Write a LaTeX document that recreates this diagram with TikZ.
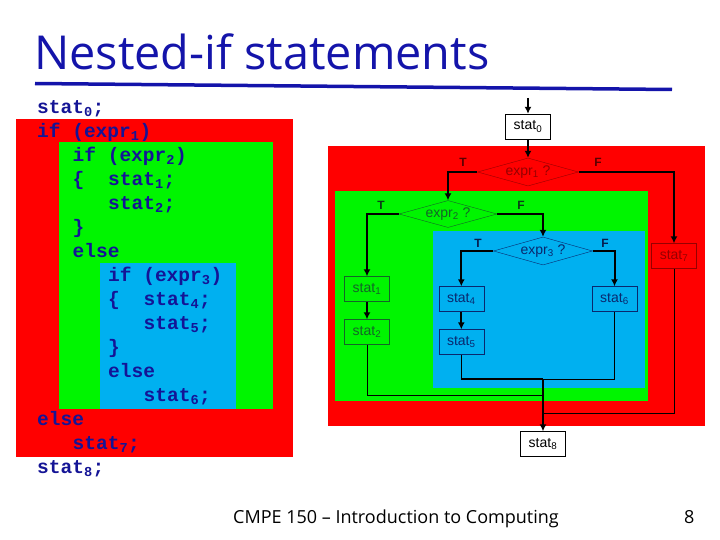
\documentclass[tikz,border=0pt]{standalone}
\usepackage{fontspec}
\setmainfont{Liberation Sans}
\newfontfamily\codefont{Liberation Mono}
\newfontfamily\titlefont{Open Sans}
\usetikzlibrary{shapes.geometric,arrows.meta}
\definecolor{codeblue}{RGB}{20,20,150}
\definecolor{titleblue}{RGB}{20,20,170}
\definecolor{zred}{RGB}{255,0,0}
\definecolor{zgreen}{RGB}{0,245,0}
\definecolor{zblue}{RGB}{0,176,240}
\definecolor{dred}{RGB}{150,0,0}
\definecolor{dgreen}{RGB}{20,100,40}
\definecolor{dblue}{RGB}{10,40,110}
\tikzset{
  code/.style={anchor=base west, inner sep=0pt, text=codeblue,
    font=\codefont\bfseries\fontsize{19.5}{24}\selectfont},
  fbox/.style={draw, minimum width=45pt, minimum height=25pt, inner sep=0pt,
    font=\fontsize{14}{16}\selectfont},
  dia/.style={diamond, draw, aspect=3.6, inner sep=0pt,
    font=\fontsize{14}{16}\selectfont},
  tf/.style={inner sep=0pt, font=\bfseries\fontsize{12}{14}\selectfont},
  thickl/.style={line width=2pt},
  thinl/.style={line width=0.8pt},
  arr/.style={line width=2pt, -{Latex[length=7pt,width=7pt]}},
}
\begin{document}
\begin{tikzpicture}[x=1pt,y=-1pt]
\useasboundingbox (0,0) rectangle (720,540);
% title
\node[anchor=base west, inner sep=0pt, text=titleblue,
  font=\titlefont\fontsize{46.8}{52}\selectfont] (title) at (34,70) {Nested-if statements};
\coordinate (ul1) at (35,83.5);
\coordinate (ul2) at (672,89.5);
\draw[titleblue, line width=3.5pt] (ul1) -- (ul2);
% left colored areas
\fill[zred] (16,119) rectangle (293,457);
\fill[zgreen] (59,142) rectangle (273,409);
\fill[zblue] (100,263) rectangle (236,409);
% code lines
\node[code] (l0) at (37,113.5) {stat\textsubscript{0};};
\node[code] (l1) at (37,137.5) {if (expr\textsubscript{1})};
\node[code] (l2) at (72.5,161.5) {if (expr\textsubscript{2})};
\node[code] (l3a) at (72.5,185.5) {\{};
\node[code] (l3b) at (108,185.5) {stat\textsubscript{1};};
\node[code] (l4) at (108,209.5) {stat\textsubscript{2};};
\node[code] (l5) at (72.5,233.5) {\}};
\node[code] (l6) at (72.5,257.5) {else};
\node[code] (l7) at (108,281.5) {if (expr\textsubscript{3})};
\node[code] (l8a) at (108,305.5) {\{};
\node[code] (l8b) at (143.5,305.5) {stat\textsubscript{4};};
\node[code] (l9) at (143.5,329.5) {stat\textsubscript{5};};
\node[code] (l10) at (108,353.5) {\}};
\node[code] (l11) at (108,377.5) {else};
\node[code] (l12) at (143.5,401.5) {stat\textsubscript{6};};
\node[code] (l13) at (37,425.5) {else};
\node[code] (l14) at (72.5,449.5) {stat\textsubscript{7};};
\node[code] (l15) at (37,473.5) {stat\textsubscript{8};};
% right colored areas
\fill[zred] (328,146) rectangle (705,426);
\fill[zgreen] (335,191) rectangle (648,401);
\fill[zblue] (433,231) rectangle (645,388);
% flowchart nodes
\coordinate (start) at (528,98);
\node[fbox, fill=white] (s0) at (528,126.5) {stat\textsubscript{0}};
\node[dia, draw=dred, text=dred, minimum width=101pt, minimum height=28pt] (e1) at (528,172) {expr\textsubscript{1} ?};
\node[dia, draw=dgreen, text=dgreen, minimum width=98pt, minimum height=27pt] (e2) at (448,214) {expr\textsubscript{2} ?};
\node[dia, draw=dblue, text=dblue, minimum width=99pt, minimum height=28pt] (e3) at (543,251) {expr\textsubscript{3} ?};
\node[fbox, draw=dgreen, text=dgreen] (s1) at (367,289) {stat\textsubscript{1}};
\node[fbox, draw=dgreen, text=dgreen] (s2) at (367,332) {stat\textsubscript{2}};
\node[fbox, draw=dblue, text=dblue] (s4) at (461.3,299) {stat\textsubscript{4}};
\node[fbox, draw=dblue, text=dblue] (s5) at (461.3,342) {stat\textsubscript{5}};
\node[fbox, draw=dblue, text=dblue] (s6) at (614.5,299) {stat\textsubscript{6}};
\node[fbox, draw=dred, text=dred] (s7) at (674,256) {stat\textsubscript{7}};
\node[fbox, fill=white] (s8) at (543,444) {stat\textsubscript{8}};
% T/F labels
\node[tf, text=dred!60!black] (t1) at (463,162) {T};
\node[tf, text=dred!60!black] (f1) at (598,162) {F};
\node[tf, text=dgreen!60!black] (t2) at (381,205) {T};
\node[tf, text=dgreen!60!black] (f2) at (521,205) {F};
\node[tf, text=dblue!70!black] (t3) at (478,243) {T};
\node[tf, text=dblue!70!black] (f3) at (605,243) {F};
% joins
\coordinate (j1) at (543,379);
\coordinate (j2) at (543,395);
\coordinate (j3) at (543,413);
% connectors
\draw[arr] (start) -- (s0.north);
\draw[arr] (s0.south) -- (e1.north);
\draw[arr] (e1.west) -| (e2.north);
\draw[arr] (e1.east) -| (s7.north);
\draw[arr] (e2.west) -| (s1.north);
\draw[arr] (e2.east) -| (e3.north);
\draw[arr] (e3.west) -| (s4.north);
\draw[arr] (e3.east) -| (s6.north);
\draw[arr] (s1.south) -- (s2.north);
\draw[arr] (s4.south) -- (s5.north);
\draw[thinl] (s5.south) -- (s5.south |- j1);
\draw[thickl] (s5.south |- j1) -- (j1);
\draw[thinl] (s6.south) |- (j1);
\draw[thinl] (s2.south) |- (j2);
\draw[thinl] (s7.south) |- (j3);
\draw[arr] (j1) -- (s8.north);
% footer
\node[anchor=base west, inner sep=0pt, font=\titlefont\fontsize{18}{20}\selectfont] (foot) at (233,523) {CMPE 150 – Introduction to Computing};
\node[anchor=base west, inner sep=0pt, font=\titlefont\fontsize{18}{20}\selectfont] (page) at (684,523) {8};
\end{tikzpicture}
\end{document}
